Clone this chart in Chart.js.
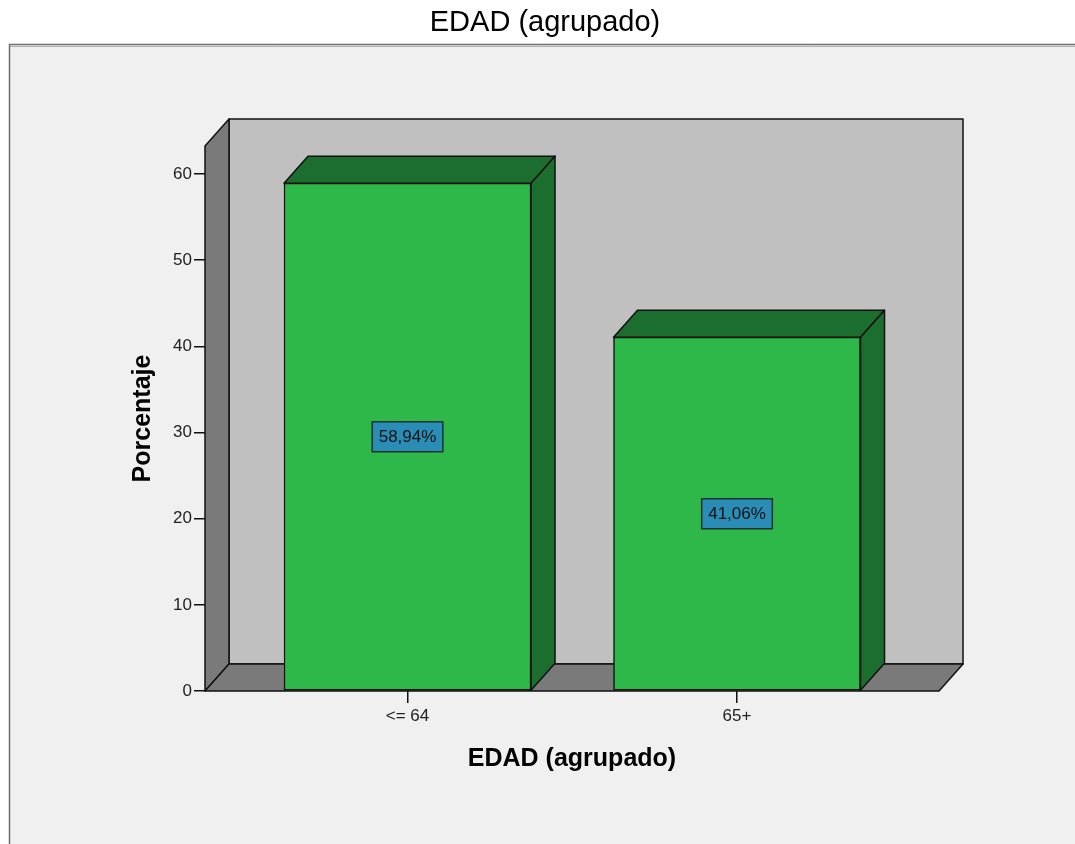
<!DOCTYPE html>
<html>
<head>
<meta charset="utf-8">
<script src="https://cdn.jsdelivr.net/npm/chart.js@4.4.1/dist/chart.umd.min.js"></script>
<style>
  html, body { margin: 0; padding: 0; background: #fff; }
  canvas { display: block; }
</style>
</head>
<body>
<canvas id="edadChart" width="1075" height="844"></canvas>
<script>
const chartTitle = 'EDAD (agrupado)';
const categories = ['<= 64', '65+'];
const percentages = [58.94, 41.06];
const yTickStep = 10;

const FONT = '"Liberation Sans", Arial, sans-serif';
const DX = 24;
const DY = -27;

function formatPct(v) {
  return v.toFixed(2).replace('.', ',') + '%';
}

function poly(ctx, pts, fill) {
  ctx.beginPath();
  ctx.moveTo(pts[0][0], pts[0][1]);
  for (let i = 1; i < pts.length; i++) ctx.lineTo(pts[i][0], pts[i][1]);
  ctx.closePath();
  ctx.fillStyle = fill;
  ctx.fill();
  ctx.stroke();
}

const frame3d = {
  id: 'frame3d',
  beforeDraw(chart) {
    const { ctx, width, height } = chart;
    ctx.save();
    ctx.fillStyle = '#fff';
    ctx.fillRect(0, 0, width, height);
    ctx.fillStyle = '#f0f0f0';
    ctx.fillRect(9, 44, width - 9, height - 44);
    ctx.strokeStyle = '#6f6f6f';
    ctx.lineWidth = 1.5;
    ctx.beginPath();
    ctx.moveTo(9.5, height);
    ctx.lineTo(9.5, 44.5);
    ctx.lineTo(width, 44.5);
    ctx.stroke();
    ctx.strokeStyle = '#b0b0b0';
    ctx.lineWidth = 1;
    ctx.beginPath();
    ctx.moveTo(10, 46.5);
    ctx.lineTo(width, 46.5);
    ctx.stroke();

    // chart title, centred over the whole frame
    ctx.fillStyle = '#000';
    ctx.font = '29px ' + FONT;
    ctx.textAlign = 'center';
    ctx.textBaseline = 'middle';
    ctx.fillText(chartTitle, 545, 23);
    ctx.restore();
  },
  beforeDatasetsDraw(chart) {
    const { ctx, chartArea } = chart;
    const l = chartArea.left, r = chartArea.right, t = chartArea.top;
    const b = chart.scales.y.getPixelForValue(0);
    ctx.save();
    ctx.strokeStyle = '#111';
    ctx.lineWidth = 1.5;
    ctx.lineJoin = 'round';
    // back wall
    poly(ctx, [[l + DX, t + DY], [r + DX, t + DY], [r + DX, b + DY], [l + DX, b + DY]], '#c0c0c0');
    // left wall
    poly(ctx, [[l, t], [l + DX, t + DY], [l + DX, b + DY], [l, b]], '#7a7a7a');
    // floor
    poly(ctx, [[l, b], [l + DX, b + DY], [r + DX, b + DY], [r, b]], '#7a7a7a');
    ctx.restore();
  },
  afterDatasetsDraw(chart) {
    const { ctx } = chart;
    const meta = chart.getDatasetMeta(0);
    ctx.save();
    ctx.lineWidth = 1.5;
    ctx.lineJoin = 'round';
    meta.data.forEach((bar, i) => {
      const { x, y, base, width } = bar.getProps(['x', 'y', 'base', 'width'], true);
      const l = x - width / 2, r = x + width / 2;
      ctx.strokeStyle = '#111';
      poly(ctx, [[l, y], [l + DX, y + DY], [r + DX, y + DY], [r, y]], '#1c6e2e');
      poly(ctx, [[r, y], [r + DX, y + DY], [r + DX, base + DY], [r, base]], '#1c6e2e');

      // value box in the middle of the bar
      const text = formatPct(percentages[i]);
      ctx.font = '17px ' + FONT;
      const tw = ctx.measureText(text).width;
      const bw = tw + 13, bh = 30;
      const cy = (y + base) / 2;
      ctx.fillStyle = '#2a8db6';
      ctx.fillRect(x - bw / 2, cy - bh / 2, bw, bh);
      ctx.strokeStyle = '#1d322c';
      ctx.strokeRect(x - bw / 2, cy - bh / 2, bw, bh);
      ctx.fillStyle = '#111';
      ctx.textAlign = 'center';
      ctx.textBaseline = 'middle';
      ctx.fillText(text, x, cy + 1);
    });
    ctx.restore();
  }
};

new Chart(document.getElementById('edadChart'), {
  type: 'bar',
  data: {
    datasets: [{
      data: percentages.map((v, i) => ({ x: i, y: v })),
      backgroundColor: '#2fb84a',
      borderColor: '#111',
      borderWidth: 1.5,
      borderSkipped: false,
      barThickness: 247
    }]
  },
  options: {
    responsive: false,
    animation: false,
    layout: { padding: { left: 0, right: 136, top: 146, bottom: 0 } },
    plugins: {
      legend: { display: false },
      tooltip: { enabled: false },
      title: { display: false }
    },
    scales: {
      x: {
        type: 'linear',
        offset: false,
        min: -0.6146,
        max: 1.613,
        afterBuildTicks: (s) => { s.ticks = categories.map((_, i) => ({ value: i })); },
        afterFit: (s) => { s.height = 153; },
        border: { display: false },
        grid: { offset: false, drawOnChartArea: false, color: '#111', lineWidth: 1.5, tickLength: 12 },
        ticks: {
          color: '#222',
          font: { family: FONT, size: 17 },
          padding: 3,
          callback: (v) => categories[Math.round(v)]
        },
        title: {
          display: true,
          text: 'EDAD (agrupado)',
          color: '#000',
          font: { family: FONT, size: 25, weight: 'bold' },
          padding: { top: 0, bottom: 70 }
        }
      },
      y: {
        min: 0,
        max: 63.25,
        afterFit: (s) => { s.width = 205; },
        border: { display: false },
        grid: { drawOnChartArea: false, color: '#111', lineWidth: 1.5, tickLength: 11 },
        ticks: {
          stepSize: yTickStep,
          includeBounds: false,
          color: '#222',
          font: { family: FONT, size: 17 },
          padding: 2
        },
        title: {
          display: true,
          text: 'Porcentaje',
          color: '#000',
          font: { family: FONT, size: 25, weight: 'bold' },
          padding: { top: 128, bottom: 0 }
        }
      }
    }
  },
  plugins: [frame3d]
});
</script>
</body>
</html>
